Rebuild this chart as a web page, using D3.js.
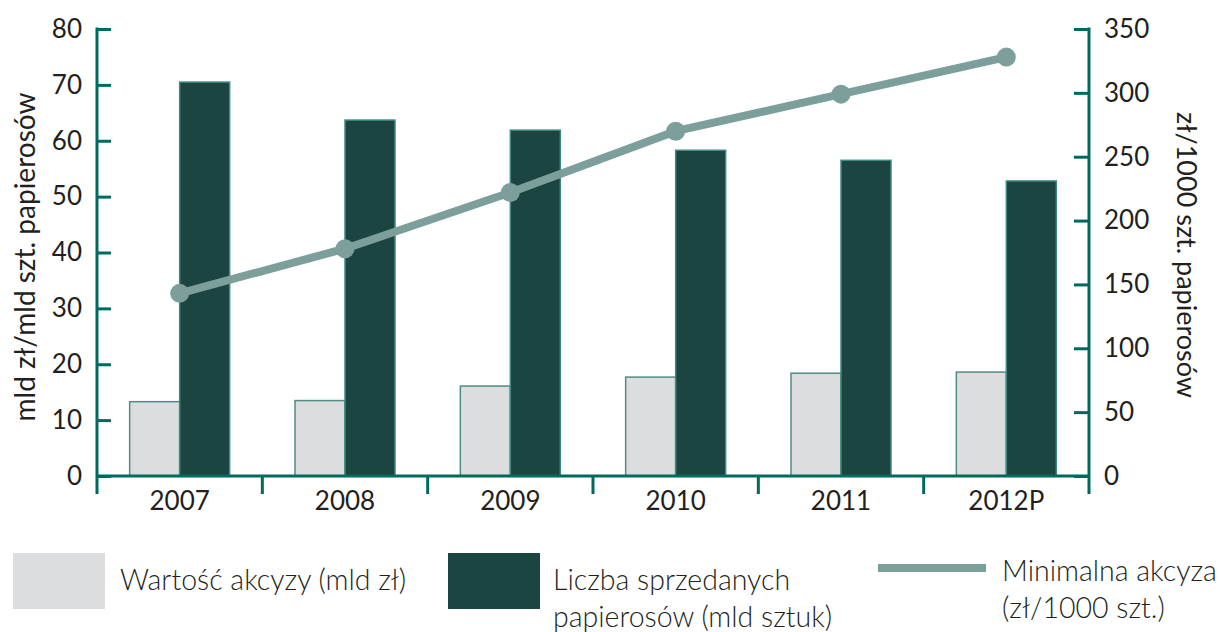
<!DOCTYPE html>
<html>
<head>
<meta charset="utf-8">
<script src="https://cdn.jsdelivr.net/npm/d3@7"></script>
<style>
  body { margin: 0; background: #fff; }
  svg text { font-family: Lato, "Open Sans", sans-serif; fill: #231f20; }
</style>
</head>
<body>
<div id="chart"></div>
<script>
var years = ["2007", "2008", "2009", "2010", "2011", "2012P"];
var akcyza = [13.3, 13.5, 16.1, 17.7, 18.4, 18.6];          // mld zł
var sprzedaz = [70.5, 63.7, 61.9, 58.3, 56.5, 52.8];        // mld sztuk
var minAkcyza = [143, 178, 222, 270, 299, 328];             // zł/1000 szt.
var leftTicks = [0, 10, 20, 30, 40, 50, 60, 70, 80];
var rightTicks = [0, 50, 100, 150, 200, 250, 300, 350];

var width = 1220, height = 632;
var axisColor = "#006a5f";
var m = { left: 97, right: 1089, top: 29, bottom: 476 };

var svg = d3.select("#chart").append("svg")
    .attr("width", width)
    .attr("height", height);

var x = d3.scaleBand().domain(years).range([m.left, m.right]);
var yL = d3.scaleLinear().domain([0, 80]).range([m.bottom, m.top]);
var yR = d3.scaleLinear().domain([0, 350]).range([m.bottom, m.top]);
var barW = 50;

// bars
var g = svg.append("g");
g.selectAll("rect.light")
  .data(years)
  .join("rect")
    .attr("class", "light")
    .attr("x", d => x(d) + x.bandwidth() / 2 - barW)
    .attr("y", (d, i) => yL(akcyza[i]))
    .attr("width", barW)
    .attr("height", (d, i) => m.bottom - yL(akcyza[i]))
    .attr("fill", "#dcdddf")
    .attr("stroke", "#4f8c85")
    .attr("stroke-width", 1.5);

g.selectAll("rect.dark")
  .data(years)
  .join("rect")
    .attr("class", "dark")
    .attr("x", d => x(d) + x.bandwidth() / 2)
    .attr("y", (d, i) => yL(sprzedaz[i]))
    .attr("width", barW)
    .attr("height", (d, i) => m.bottom - yL(sprzedaz[i]))
    .attr("fill", "#1c4542")
    .attr("stroke", "#3f8a80")
    .attr("stroke-width", 1.5);

// line
var line = d3.line()
    .x((d, i) => x(years[i]) + x.bandwidth() / 2)
    .y(d => yR(d));

svg.append("path")
    .datum(minAkcyza)
    .attr("d", line)
    .attr("fill", "none")
    .attr("stroke", "#7c9f9c")
    .attr("stroke-width", 8);

svg.selectAll("circle.pt")
  .data(minAkcyza)
  .join("circle")
    .attr("class", "pt")
    .attr("cx", (d, i) => x(years[i]) + x.bandwidth() / 2)
    .attr("cy", d => yR(d))
    .attr("r", 9.5)
    .attr("fill", "#7c9f9c");

// axes
var leftAxis = svg.append("g")
    .attr("transform", `translate(${m.left},0)`)
    .call(d3.axisLeft(yL).tickValues(leftTicks).tickSize(-14).tickPadding(30));

var rightAxis = svg.append("g")
    .attr("transform", `translate(${m.right},0)`)
    .call(d3.axisRight(yR).tickValues(rightTicks).tickSize(-15).tickPadding(30));

var bottomAxis = svg.append("g")
    .attr("transform", `translate(0,${m.bottom})`)
    .call(d3.axisBottom(x).tickSize(0).tickPadding(16));

[leftAxis, rightAxis, bottomAxis].forEach(a => {
  a.select(".domain").remove();
  a.selectAll(".tick line").attr("stroke", axisColor).attr("stroke-width", 3);
  a.selectAll(".tick text")
    .style("font-family", "Lato, 'Open Sans', sans-serif")
    .style("font-size", "26px")
    .attr("fill", "#231f20");
});
leftAxis.selectAll(".tick text").attr("dx", 15);
rightAxis.selectAll(".tick text").attr("dx", -15);

// axis lines
svg.append("line")
    .attr("x1", m.left).attr("x2", m.left)
    .attr("y1", m.top - 1.5).attr("y2", m.bottom + 18)
    .attr("stroke", axisColor).attr("stroke-width", 3);
svg.append("line")
    .attr("x1", m.right).attr("x2", m.right)
    .attr("y1", m.top - 1.5).attr("y2", m.bottom + 18)
    .attr("stroke", axisColor).attr("stroke-width", 3);
svg.append("line")
    .attr("x1", m.left).attr("x2", m.right)
    .attr("y1", m.bottom).attr("y2", m.bottom)
    .attr("stroke", axisColor).attr("stroke-width", 3);

// category separators
svg.selectAll("line.sep")
  .data(years.slice(1))
  .join("line")
    .attr("class", "sep")
    .attr("x1", d => x(d)).attr("x2", d => x(d))
    .attr("y1", m.bottom).attr("y2", m.bottom + 18)
    .attr("stroke", axisColor).attr("stroke-width", 3);

// axis titles
svg.append("text")
    .attr("transform", "translate(35,257) rotate(-90)")
    .attr("text-anchor", "middle")
    .style("font-size", "28px")
    .text("mld zł/mld szt. papierosów");

svg.append("text")
    .attr("transform", "translate(1177,255) rotate(90)")
    .attr("text-anchor", "middle")
    .style("font-size", "27px")
    .text("zł/1000 szt. papierosów");

// legend
var leg = svg.append("g").style("font-weight", 300).style("font-size", "28.5px");
leg.append("rect").attr("x", 13).attr("y", 553).attr("width", 92).attr("height", 56)
    .attr("fill", "#dcdddf");
leg.append("text").attr("x", 120).attr("y", 590).text("Wartość akcyzy (mld zł)");

leg.append("rect").attr("x", 448).attr("y", 553).attr("width", 92).attr("height", 56)
    .attr("fill", "#1c4542");
leg.append("text").attr("x", 553).attr("y", 590).text("Liczba sprzedanych");
leg.append("text").attr("x", 553).attr("y", 627).text("papierosów (mld sztuk)");

leg.append("line").attr("x1", 878).attr("x2", 986).attr("y1", 568).attr("y2", 568)
    .attr("stroke", "#7c9f9c").attr("stroke-width", 8);
leg.append("text").attr("x", 1002).attr("y", 581).text("Minimalna akcyza");
leg.append("text").attr("x", 1002).attr("y", 618).text("(zł/1000 szt.)");
</script>
</body>
</html>
